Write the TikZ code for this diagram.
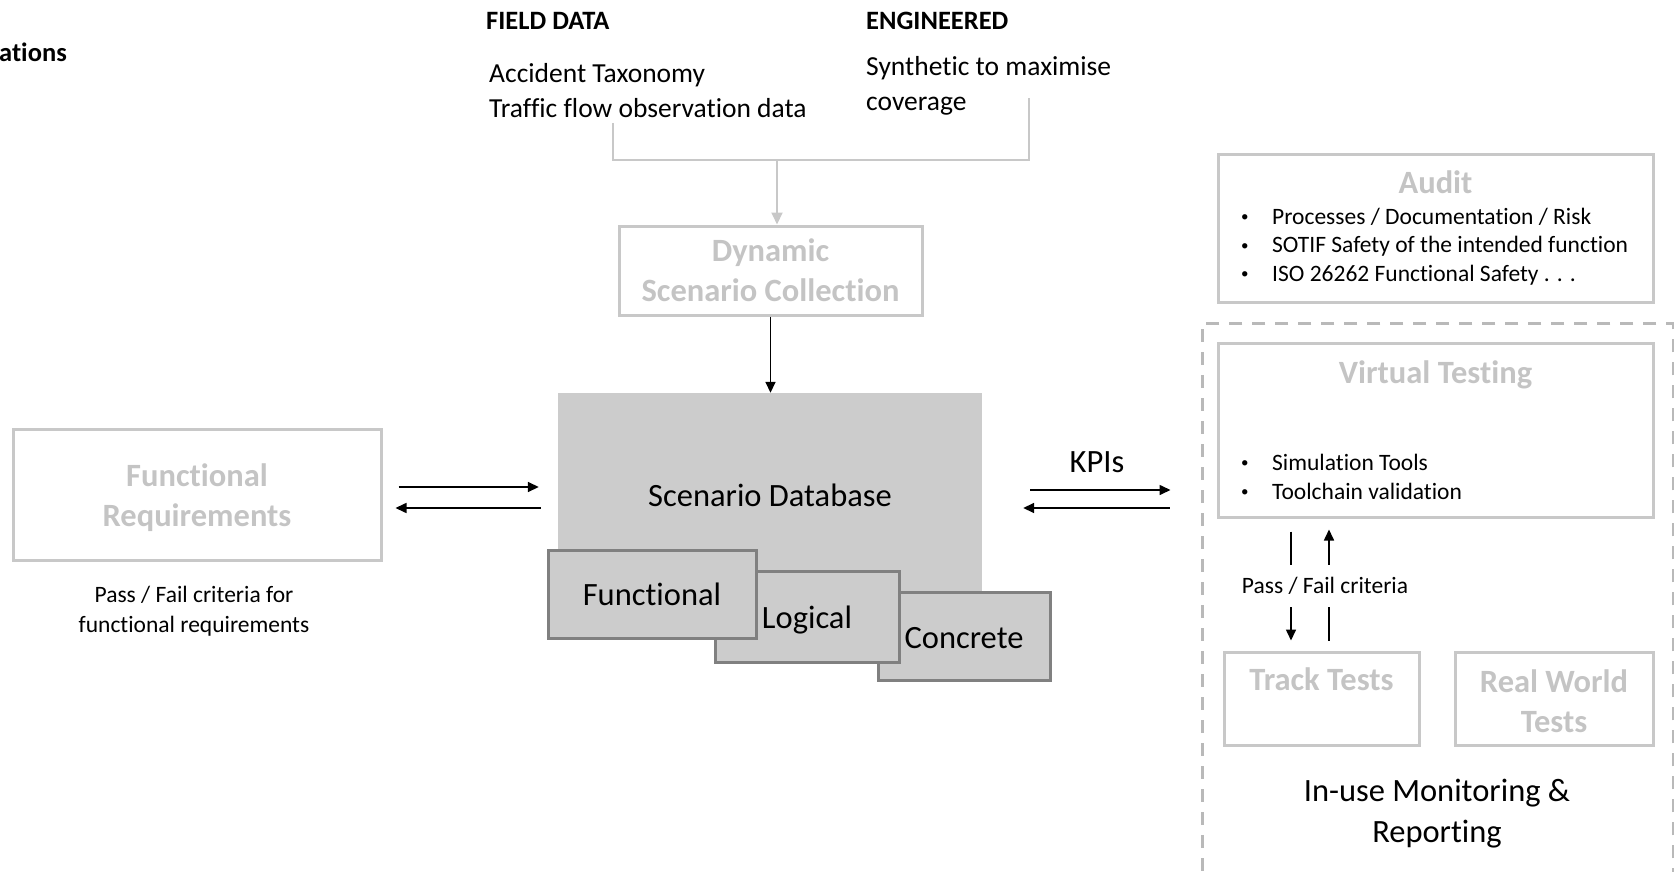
\documentclass[tikz,border=0pt]{standalone}
\usepackage{fontspec}
\setmainfont{Carlito}[Ligatures=NoCommon]
\usetikzlibrary{arrows.meta,positioning,calc}

\definecolor{boxgray}{RGB}{200,200,200}
\definecolor{ttlgray}{RGB}{196,196,196}
\definecolor{dbfill}{RGB}{204,204,204}
\definecolor{dbedge}{RGB}{128,128,128}
\definecolor{dashgray}{RGB}{185,185,185}

\newcommand{\bitem}[1]{\makebox[31pt][l]{\raisebox{2.5pt}{\fontsize{15pt}{15pt}\selectfont\textbullet}}#1}
\newcommand{\sinkby}[2]{\raisebox{-#1}[\height][\depth]{#2}}

\begin{document}
\begin{tikzpicture}[
  x=1pt, y=-1pt,
  big/.style  ={font=\fontsize{32.5pt}{41pt}\selectfont, align=center},
  med/.style  ={font=\fontsize{27.5pt}{35pt}\selectfont, align=left, inner sep=0pt},
  hdr/.style  ={font=\fontsize{26.5pt}{32pt}\selectfont\bfseries, inner sep=0pt},
  small/.style={font=\fontsize{23.5pt}{29pt}\selectfont, align=center},
  ttl/.style  ={font=\fontsize{32.5pt}{40pt}\selectfont\bfseries, text=ttlgray, align=center},
  lbox/.style ={draw=boxgray, line width=3pt, inner sep=0pt},
  stage/.style={draw=dbedge, line width=3pt, fill=dbfill, inner sep=0pt,
                font=\fontsize{32.5pt}{39pt}\selectfont},
  grp/.style  ={draw=dashgray, line width=2.5pt, dash pattern=on 13pt off 10pt, inner sep=0pt},
  feed/.style ={draw=boxgray, line width=2pt},
  arr/.style  ={-{Triangle[length=11pt,width=10pt]}, line width=1.6pt},
  garr/.style ={-{Triangle[length=12pt,width=11pt]}, feed}
]
\useasboundingbox (0,0) rectangle (1674,872);

% sources at the top
\node[hdr, anchor=west] (cut) at (-1,52) {ations};
\node[hdr, anchor=west] (fieldhd) at (486,21) {FIELD DATA};
\node[hdr, anchor=west] (enghd) at (866,21) {ENGINEERED};
\node[med, anchor=west] (fieldtxt) at (489,90.5) {Accident Taxonomy\\Traffic flow observation data};
\node[med, anchor=west] (engtxt) at (866,86) {Synthetic to maximise\\coverage};

\node[lbox, ttl, minimum width=303pt, minimum height=89pt] (dyn) at (770.5,270.5)
  {Dynamic\\Scenario Collection};

\coordinate (brL) at (613,123);
\coordinate (brR) at (1029,98);
\coordinate (brM) at (777,160);
\draw[feed] (brL) |- (brR |- brM) -- (brR);
\draw[garr] (brM) -- (brM |- dyn.north);

% scenario database
\node[fill=dbfill, inner sep=0pt, minimum width=424pt, minimum height=227pt] (db) at (770,506.5) {};
\node[big] (dbtxt) at (770,495) {Scenario Database};
\node[stage, minimum width=172pt, minimum height=88pt] (conc) at (964,636) {\sinkby{2pt}{Concrete}};
\node[stage, minimum width=184pt, minimum height=91pt] (logi) at (807,616.5) {\sinkby{4pt}{Logical}};
\node[stage, minimum width=208pt, minimum height=88pt] (func) at (652,594) {Functional};

\draw[arr] (dyn.south) -- (dyn.south |- db.north);

% functional requirements
\node[lbox, ttl, font=\fontsize{32.5pt}{40pt}\selectfont\bfseries, minimum width=368pt, minimum height=131pt]
  (fr) at (197,494.5) {\sinkby{3pt}{Functional}\\\sinkby{3pt}{Requirements}};
\node[small, font=\fontsize{23.5pt}{30pt}\selectfont] (frcrit) at (194,611)
  {Pass / Fail criteria for\\functional requirements};

\coordinate (la) at (0,487);
\coordinate (lb) at (0,508);
\draw[arr, shorten <=16pt, shorten >=19pt] (fr.east |- la) -- (db.west |- la);
\draw[arr, shorten <=17pt, shorten >=13pt] (db.west |- lb) -- (fr.east |- lb);

% right hand side
\node[lbox, minimum width=435pt, minimum height=147pt] (audit) at (1435.5,228.5) {};
\node[ttl] (audittl) at ([yshift=-29pt]audit.north) {Audit};
\node[small, align=left, anchor=west, inner sep=0pt, font=\fontsize{23.5pt}{28.5pt}\selectfont]
  (auditlist) at (1241,246.5)
  {\bitem{Processes / Documentation / Risk}\\
   \bitem{SOTIF Safety of the intended function}\\
   \bitem{ISO 26262 Functional Safety . . .}};

\node[grp, anchor=north west, minimum width=471pt, minimum height=570pt] (inuse) at (1201,322) {};

\node[lbox, minimum width=435pt, minimum height=174pt] (vt) at (1435.5,430) {};
\node[ttl] (vttl) at ([yshift=-33pt]vt.north) {Virtual Testing};
\node[small, align=left, anchor=west, inner sep=0pt, font=\fontsize{23.5pt}{29pt}\selectfont]
  (vtlist) at (1241,476.5)
  {\bitem{Simulation Tools}\\
   \bitem{Toolchain validation}};

\node[lbox, ttl, minimum width=195pt, minimum height=93pt] (track) at (1321.5,698.5) {\sinkby{1pt}{Track Tests}\\\mbox{}};
\node[lbox, ttl, minimum width=198pt, minimum height=93pt] (real) at (1554,698.5) {\sinkby{3pt}{Real World}\\\sinkby{3pt}{Tests}};

\coordinate (pfl) at (1291,0);
\coordinate (pfr) at (1329,0);
\draw[arr, shorten <=13pt, shorten >=10pt] (vt.south -| pfl) -- (track.north -| pfl);
\draw[arr, shorten <=10pt, shorten >=11pt] (track.north -| pfr) -- (vt.south -| pfr);
\node[small, fill=white, inner xsep=2pt, inner ysep=12pt] (pfc) at (1325,586) {Pass / Fail criteria};

\node[big] (inusetxt) at (1437,814) {In-use Monitoring \&\\Reporting};

\node[big] (kpi) at (1097,462) {KPIs};
\coordinate (ra) at (0,490);
\coordinate (rb) at (0,508);
\draw[arr, shorten <=48pt, shorten >=46pt] (db.east |- ra) -- (vt.west |- ra);
\draw[arr, shorten <=47pt, shorten >=41pt] (vt.west |- rb) -- (db.east |- rb);
\end{tikzpicture}
\end{document}
